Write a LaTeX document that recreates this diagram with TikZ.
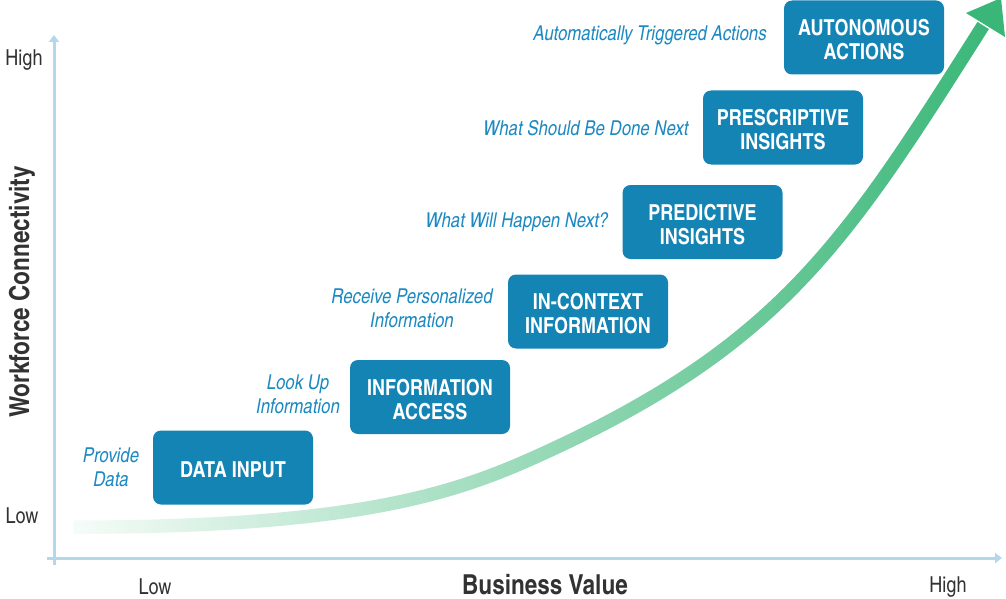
\documentclass[tikz,border=0pt]{standalone}
\usepackage{fontspec}
\setmainfont{texgyreheroscn}[Extension=.otf, UprightFont=*-regular, BoldFont=*-bold, ItalicFont=*-italic, BoldItalicFont=*-bolditalic]
\usetikzlibrary{arrows.meta,fadings}
\definecolor{boxblue}{RGB}{20,132,180}
\definecolor{labblue}{RGB}{28,137,193}
\definecolor{axisblue}{RGB}{178,216,234}
\definecolor{curvegreen}{RGB}{58,183,120}
\definecolor{darktext}{RGB}{50,50,50}
\tikzfading[name=curvefade, left color=transparent!96, right color=transparent!0]
\begin{document}
\begin{tikzpicture}[x=1pt,y=-1pt,
  stagebox/.style={fill=boxblue, rounded corners=8pt, minimum width=160pt, minimum height=74pt, inner sep=0pt},
  stagetext/.style={text=white, font=\bfseries\fontsize{22}{24}\selectfont, align=center, inner sep=0pt},
  note/.style={text=labblue, font=\itshape\fontsize{20.5}{24}\selectfont, align=center, inner sep=0pt},
  ticklab/.style={text=darktext, font=\fontsize{22}{24}\selectfont, inner sep=0pt},
  axlab/.style={text=darktext, font=\bfseries\fontsize{27.5}{30}\selectfont, inner sep=0pt},
  axisline/.style={draw=axisblue, line width=3pt, -{Triangle[width=10pt,length=7pt]}}]
\useasboundingbox (0,0) rectangle (1006,599);

% axes
\coordinate (yb) at (54,565);
\coordinate (yt) at (54,35);
\coordinate (xl) at (47,558);
\coordinate (xr) at (1002,558);
\draw[axisline] (yb) -- (yt);
\draw[axisline] (xl) -- (xr);

% growth curve
\coordinate (c0) at (74,527);
\coordinate (c1) at (560,446);
\coordinate (c2) at (985,25);
\draw[line width=13.5pt, curvegreen, path fading=curvefade]
  (c0) .. controls (380,527) and (470,488) .. (c1)
       .. controls (786,339.75) and (851.25,236.25) .. (c2);
\coordinate (h1) at (966,13);
\coordinate (h2) at (1001,-2);
\coordinate (h3) at (1005,37);
\fill[curvegreen] (h1) -- (h2) -- (h3) -- cycle;

% stage boxes
\node[stagebox] (s1) at (233,467.5) {};
\node[stagebox] (s2) at (430,397) {};
\node[stagebox] (s3) at (588,311.5) {};
\node[stagebox] (s4) at (702.5,222) {};
\node[stagebox] (s5) at (783,127.5) {};
\node[stagebox] (s6) at (864,37.5) {};
\node[stagetext] (t1) at ([yshift=-2.5pt]s1.center) {DATA INPUT};
\node[stagetext] (t2) at ([yshift=-2.5pt]s2.center) {INFORMATION\\ACCESS};
\node[stagetext] (t3) at ([yshift=-2.5pt]s3.center) {IN-CONTEXT\\INFORMATION};
\node[stagetext] (t4) at ([yshift=-2.5pt]s4.center) {PREDICTIVE\\INSIGHTS};
\node[stagetext] (t5) at ([yshift=-2.5pt]s5.center) {PRESCRIPTIVE\\INSIGHTS};
\node[stagetext] (t6) at ([yshift=-2.5pt]s6.center) {AUTONOMOUS\\ACTIONS};

% notes
\node[note] (n1) at (111,467) {Provide\\Data};
\node[note] (n2) at (298,394) {Look Up\\Information};
\node[note] (n3) at (412,308) {Receive Personalized\\Information};
\node[note] (n4) at (517,222) {What Will Happen Next?};
\node[note] (n5) at (586,128) {What Should Be Done Next};
\node[note] (n6) at (650,35) {Automatically Triggered Actions};

% axis labels
\node[ticklab] (yhigh) at (24,60) {High};
\node[ticklab] (ylow) at (22,516) {Low};
\node[ticklab] (xlow) at (155,587) {Low};
\node[ticklab] (xhigh) at (948,587) {High};
\node[axlab] (xlab) at (545,585) {Business Value};
\node[axlab, rotate=90] (ylab) at (22,292) {Workforce Connectivity};
\end{tikzpicture}
\end{document}
